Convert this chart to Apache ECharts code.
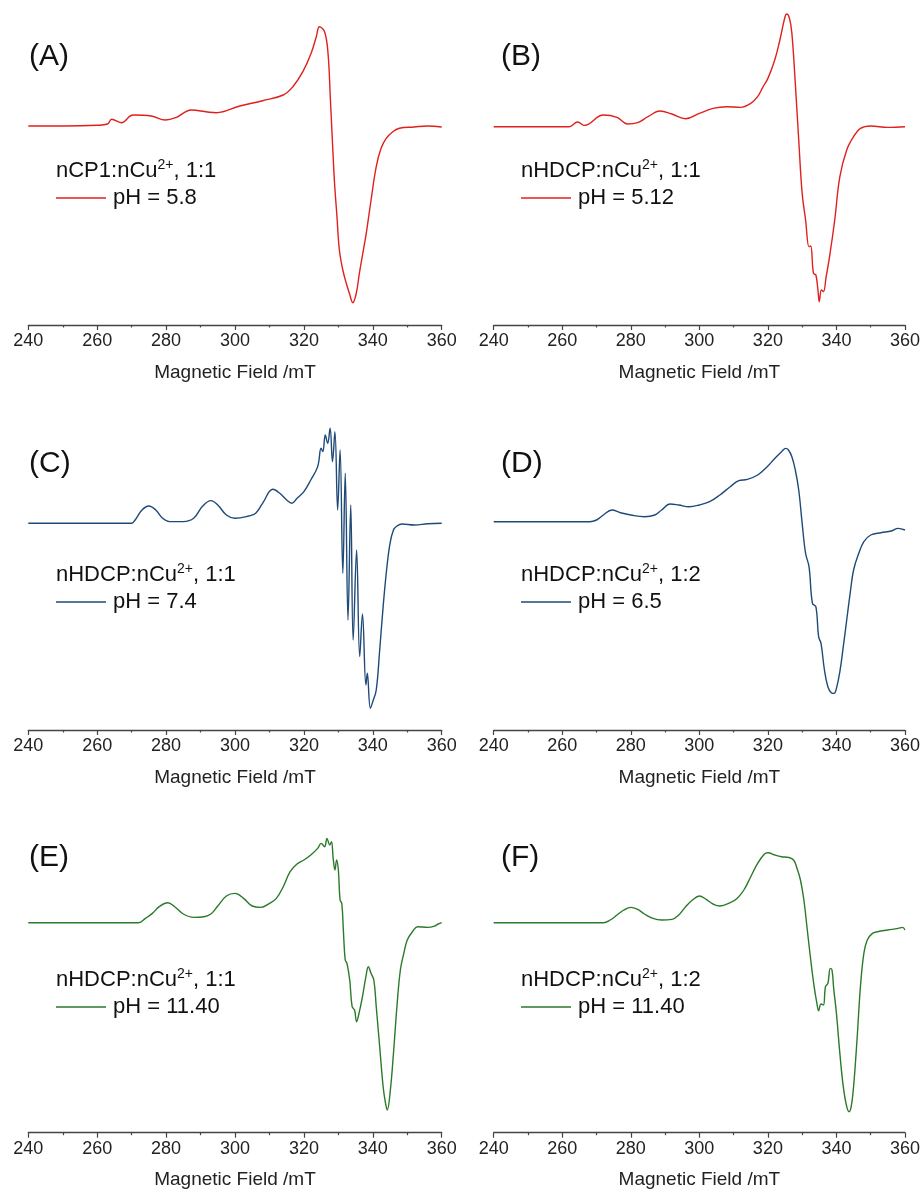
<!DOCTYPE html>
<html>
<head>
<meta charset="utf-8">
<script src="https://cdn.jsdelivr.net/npm/echarts@6/dist/echarts.min.js"></script>
<style>
  html, body { margin: 0; padding: 0; background: #fff; }
  #container { width: 923px; height: 1192px; }
</style>
</head>
<body>
<div id="container"></div>
<script>
// field ticks (mT)
var fieldTicks = [240, 260, 280, 300, 320, 340, 360];

// EPR spectra, [field /mT, intensity (a.u.)]
var specA = [[240,0],[250,0],[260,0.7],[263,2],[264.2,6.7],[267,3.3],[270.4,11],[275.7,10],[279.8,6],[283,8.7],
  [287.3,16],[292,14],[294.6,13.3],[301.4,20],[308,25.3],[314,31],[316.8,39.3],[319.7,54.3],[322.1,72.7],[323.6,89.3],
  [324.5,99.3],[326,94.3],[327,72.7],[327.7,26],[328.4,-24],[328.9,-57.3],[329.6,-90.7],[330.3,-124],[331.3,-144],
  [332.3,-157.3],[333.2,-167.3],[334.2,-176.7],[335.2,-167.3],[336.1,-147.3],[337.1,-127.3],[338.1,-107.3],
  [339.5,-74],[341,-40.7],[342.4,-22.3],[343.9,-12.3],[345.8,-5.7],[347.7,-2.3],[352,-1],[356,0],[360,-1]];

var specB = [[240,0],[250,0],[262,0],[264.5,4.7],[266.5,1.3],[272,11.7],[276,9.3],[279,2.7],[282,4],[285,10],
  [288.5,15.7],[292,12.7],[296,8],[300,13.3],[304,18.3],[308,20],[312,19.3],[315,23.3],[317,30],[318.5,39.3],
  [320,48.3],[322,66.7],[323.5,86.7],[325,110],[325.5,112.7],[326.3,108.3],[327,93.3],[328,43.3],[329,-13.3],
  [330,-66.7],[331,-93.3],[332,-120],[332.5,-119.3],[333.3,-146.7],[334,-148.3],[334.6,-163.3],[335,-175],
  [335.6,-163.3],[336.2,-165],[337,-150],[338,-130],[339.5,-93.3],[341,-50],[343,-23.3],[345,-10],[347,-1.7],
  [350,0.7],[355,-0.7],[360,0]];

var specC = [[240,0],[255,0],[270,0],[271,3.3],[273,13.3],[275,17.3],[277,13.3],[279,5],[281,1.7],[285,1.7],
  [288,5],[290.5,16.7],[293,22.7],[295,18.3],[297.5,8.3],[300,5],[304,7.3],[306,10],[308,20],[311,34],[313,30],
  [315,23.3],[316.5,20],[318,25],[320,31.7],[322,43.3],[324,56.7],[325,75],[325.5,71.7],[326.2,88.3],[326.9,80],
  [327.6,95],[328.3,61.7],[329,91.7],[329.8,13.3],[330.5,73.3],[331.3,-50],[332,50],[332.8,-96.7],[333.6,18.3],
  [334.3,-116.7],[335.3,-26.7],[336.2,-133.3],[337,-90.7],[338,-161.7],[338.4,-150],[339.3,-185],[340,-178.3],
  [341,-166.7],[342,-126.7],[343,-83.3],[344,-46.7],[345,-20],[346,-6.7],[347,-2.7],[348.5,-0.7],[352,-1.7],
  [356,-0.5],[360,0]];

var specD = [[240,0],[255,0],[268,0],[270,1.7],[272,6.7],[274.5,11.7],[277,9],[280,6.7],[284,5],[287,6.7],
  [289,11.7],[291.5,17.7],[294,16.7],[297,15],[300,16.7],[303,20],[306,26.7],[309,35],[311.5,41],[314,42.3],
  [317,46.7],[320,55.7],[322,63.3],[324,70],[325.2,73.3],[326,71.7],[327,65],[328,51.7],[329,31.7],[330,-1.7],
  [331,-31.7],[332,-45],[333,-81.7],[334,-85],[334.8,-115],[335.5,-121.7],[336.5,-148.3],[337.5,-165],
  [338.5,-171],[339.3,-171.7],[340,-166.7],[341,-150],[342,-125],[343,-98.3],[344,-71.7],[345,-48.3],
  [346.5,-31.7],[348,-20],[350,-13.3],[353,-11],[356,-9.3],[358,-6.7],[360,-8.3]];

var specE = [[240,0],[255,0],[272,0],[274,4.3],[276,9.3],[278,16],[280.5,20],[282.5,16],[285,8.7],[288,5.3],
  [291,6],[293,8.7],[295,16.7],[297.5,26.7],[300,29.3],[302.5,24.3],[305,16.7],[307.5,15.3],[310,19.3],[312,24.3],
  [314,36],[316,51],[318,58.7],[320,62.7],[322,67.7],[324,74.3],[325,79.3],[326,76],[326.7,84.3],[327.5,77.7],
  [328,81],[328.5,64.3],[329,52.7],[329.5,62.7],[330,52.7],[330.5,22.7],[331,19.3],[331.5,-10.7],[332,-37.3],
  [332.5,-40.7],[333.3,-57.3],[334,-84],[334.7,-87.3],[335.3,-99],[336,-90.7],[337,-74],[338,-54],[338.7,-44],
  [339.5,-50.7],[340.3,-57.3],[341,-84],[342,-124],[343,-164],[343.7,-180.7],[344.2,-187.3],[345,-170.7],
  [346,-130.7],[347,-84],[348,-47.3],[349,-30.7],[350,-17.3],[351.5,-9],[353,-4],[356,-4.7],[358,-3.3],
  [359,-1.3],[360,0]];

var specF = [[240,0],[255,0],[272,0],[274,2.7],[276,7.7],[278,12.7],[280,15.3],[282,13.3],[284,8.7],[286.5,4.3],
  [289,2.7],[292,3.3],[294,7.7],[296,16],[298,22.7],[300,26.7],[302,23.3],[304,18.7],[306,16.7],[309,20],
  [311,24.3],[313,32.7],[315,46],[317,59.3],[319,68.7],[320,70],[322,67.7],[324,66],[326,65.3],[327.5,62.7],
  [328.5,54.3],[329.5,42.7],[330.5,22.7],[331.5,-7.3],[332.5,-37.3],[333.5,-64],[334.3,-80.7],[334.8,-88],
  [335.5,-81.3],[336.2,-82.3],[336.8,-64],[337.5,-60.7],[338.2,-45.7],[338.7,-47.3],[339.2,-65.7],[340,-90.7],
  [341,-130.7],[342,-164],[343,-184],[343.7,-189],[344.3,-184],[345,-164],[346,-117.3],[347,-64],[348,-30.7],
  [349,-17.3],[350.5,-10.7],[352,-9],[355,-7.3],[358,-5.7],[359.3,-4.7],[360,-7.3]];

var panelLetters = ['(A)', '(B)', '(C)', '(D)', '(E)', '(F)'];
var samples = ['nCP1:nCu{sup|2+}, 1:1', 'nHDCP:nCu{sup|2+}, 1:1', 'nHDCP:nCu{sup|2+}, 1:1',
  'nHDCP:nCu{sup|2+}, 1:2', 'nHDCP:nCu{sup|2+}, 1:1', 'nHDCP:nCu{sup|2+}, 1:2'];
var phLabels = ['pH = 5.8', 'pH = 5.12', 'pH = 7.4', 'pH = 6.5', 'pH = 11.40', 'pH = 11.40'];
var spectra = [specA, specB, specC, specD, specE, specF];

var RED = '#e0201c', BLUE = '#1f4a78', GREEN = '#2a7a2a';
var colors = [RED, RED, BLUE, BLUE, GREEN, GREEN];
var FONT = 'Arial, "Liberation Sans", sans-serif';

// panel layout: [grid left, grid top, grid width, grid height, y min, y max]
var layout = [
  [28.3, 0, 413.4, 325, -199, 126],
  [493.7, 0, 412.6, 325, -198.3, 126.7],
  [28.3, 390, 413.4, 340, -206.7, 133.3],
  [493.7, 390, 412.6, 340, -208.3, 131.7],
  [28.3, 800, 413.4, 332.7, -210, 122.7],
  [493.7, 800, 412.6, 332.7, -210, 122.7]
];

var option = {
  animation: false,
  backgroundColor: '#fff',
  grid: [], xAxis: [], yAxis: [], series: [], legend: [], graphic: []
};

layout.forEach(function (p, i) {
  var textX = i % 2 === 0 ? 56 : 521;
  var row = Math.floor(i / 2);
  var letterY = [57, 464, 858][row];
  var sampleY = [171, 575, 980][row];
  var lineY = sampleY + 27;

  option.grid.push({ left: p[0], top: p[1], width: p[2], height: p[3] });
  option.xAxis.push({
    gridIndex: i, type: 'value', min: fieldTicks[0], max: fieldTicks[fieldTicks.length - 1], interval: 20,
    name: 'Magnetic Field /mT', nameLocation: 'middle', nameGap: 38,
    nameTextStyle: { fontSize: 19, color: '#222', fontFamily: FONT },
    axisLine: { onZero: false, lineStyle: { color: '#444', width: 1.3 } },
    axisTick: { show: true, length: 5, lineStyle: { color: '#444', width: 1.2 } },
    minorTick: { show: true, splitNumber: 2, length: 2.5, lineStyle: { color: '#444', width: 1.2 } },
    axisLabel: { fontSize: 18, color: '#222', margin: 7, fontFamily: FONT },
    splitLine: { show: false }
  });
  option.yAxis.push({ gridIndex: i, type: 'value', min: p[4], max: p[5], show: false, splitLine: { show: false } });
  option.series.push({
    name: phLabels[i], type: 'line', xAxisIndex: i, yAxisIndex: i,
    data: spectra[i], symbol: 'none', showSymbol: false, smooth: 0.4,
    lineStyle: { color: colors[i], width: 1.4 }, itemStyle: { color: colors[i] }
  });
  option.legend.push({
    data: [phLabels[i]], left: textX, top: lineY - 11, padding: 0, selectedMode: false,
    icon: 'rect', itemWidth: 50, itemHeight: 1.5, itemGap: 7,
    textStyle: { fontSize: 22, color: '#111', fontFamily: FONT, lineHeight: 22, padding: [0, 0, 0, 2] }
  });
  option.graphic.push({
    type: 'text', x: i % 2 === 0 ? 29 : 501, y: letterY,
    style: { text: panelLetters[i], fontSize: 30, fontFamily: FONT, fill: '#111', verticalAlign: 'middle' }
  });
  option.graphic.push({
    type: 'text', x: textX, y: sampleY,
    style: {
      text: samples[i], fontSize: 22, lineHeight: 25, fontFamily: FONT, fill: '#111', verticalAlign: 'middle',
      rich: { sup: { fontSize: 14, lineHeight: 14, verticalAlign: 'top', fontFamily: FONT, fill: '#111' } }
    }
  });
});

var chart = echarts.init(document.getElementById('container'), null, { renderer: 'canvas' });
chart.setOption(option);
</script>
</body>
</html>
